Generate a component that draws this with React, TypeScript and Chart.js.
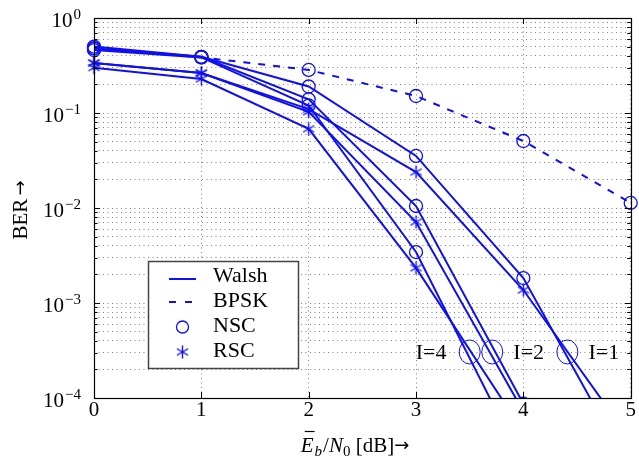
import React, { useEffect, useRef } from 'react';
import { Chart, registerables } from 'chart.js';

Chart.register(...registerables);

// ---------- data ----------
const snrDb = [0, 1, 2, 3, 4, 5];
const bpsk = [0.48, 0.385, 0.284, 0.151, 0.0507, 0.0113];
const nscI1 = [0.5, 0.39, 0.19, 0.0353, 0.00183, 1.7e-5];
const rscI1 = [0.336, 0.264, 0.11, 0.0239, 0.00137, 3.6e-5];
const nscI2 = [0.48, 0.39, 0.139, 0.0105, 8.7e-5];
const rscI2 = [0.336, 0.264, 0.103, 0.00712, 7.2e-5];
const nscI4 = [0.46, 0.385, 0.12, 0.00344, 2.0e-5];
const rscI4 = [0.3, 0.228, 0.068, 0.00234, 4.4e-5];

const xTicks = [0, 1, 2, 3, 4, 5];
const yDecades = [1, 0.1, 0.01, 0.001, 0.0001];
const yDecadeExponents = ['0', '\u22121', '\u22122', '\u22123', '\u22124'];
const yMinorMultipliers = [2, 3, 4, 5, 6, 7, 8, 9];

const legendLabels = ['Walsh', 'BPSK', 'NSC', 'RSC'];
const iterLabels = ['I=4', 'I=2', 'I=1'];
const iterLabelX = [3.14, 4.05, 4.75];
const iterCircleX = [3.5, 3.71, 4.41];
const iterY = 3.05e-4;

const xTitleParts = ['E', 'b', '/', 'N', '0', ' [dB]', '\u2192'];
const yTitleText = 'BER';
const arrow = '\u2192';

// ---------- style ----------
const BLUE = 'rgb(15,15,245)';
const FONT = "'Liberation Serif', 'Times New Roman', serif";
const ARROW_FONT = "'DejaVu Sans', sans-serif";
const GRID = 'rgba(0,0,0,0.5)';

const yTickValues: number[] = [];
yDecades.forEach((d) => {
  yTickValues.push(d);
  yMinorMultipliers.forEach((m) => {
    const v = m * d;
    if (v < 1) yTickValues.push(v);
  });
});

function makeStar(size: number, color: string): HTMLCanvasElement {
  const c = document.createElement('canvas');
  c.width = size;
  c.height = size;
  const ctx = c.getContext('2d')!;
  ctx.strokeStyle = color;
  ctx.lineWidth = 1.4;
  const cx = size / 2;
  const cy = size / 2;
  const r = size / 2 - 1;
  ctx.beginPath();
  for (let k = 0; k < 3; k++) {
    const a = Math.PI / 2 + (k * Math.PI) / 3;
    ctx.moveTo(cx + r * Math.cos(a), cy + r * Math.sin(a));
    ctx.lineTo(cx - r * Math.cos(a), cy - r * Math.sin(a));
  }
  ctx.stroke();
  return c;
}

let starImg: HTMLCanvasElement;

const overlayPlugin = {
  id: 'overlay',
  afterDatasetsDraw(chart: any) {
    const ctx = chart.ctx as CanvasRenderingContext2D;
    const xs = chart.scales.x;
    const ys = chart.scales.y;
    const py = ys.getPixelForValue(iterY);
    ctx.save();
    ctx.strokeStyle = BLUE;
    ctx.lineWidth = 1;
    iterCircleX.forEach((v) => {
      ctx.beginPath();
      ctx.ellipse(xs.getPixelForValue(v), py, 10.5, 12, 0, 0, Math.PI * 2);
      ctx.stroke();
    });
    ctx.fillStyle = '#000';
    ctx.font = `22px ${FONT}`;
    ctx.textAlign = 'center';
    ctx.textBaseline = 'middle';
    iterLabels.forEach((t, i) => {
      ctx.fillText(t, xs.getPixelForValue(iterLabelX[i]), py + 1);
    });
    ctx.restore();
  },
  afterDraw(chart: any) {
    const ctx = chart.ctx as CanvasRenderingContext2D;
    const a = chart.chartArea;
    const xs = chart.scales.x;
    const ys = chart.scales.y;
    ctx.save();
    // frame
    ctx.strokeStyle = '#000';
    ctx.lineWidth = 1.2;
    ctx.strokeRect(Math.round(a.left) + 0.5, Math.round(a.top) + 0.5, Math.round(a.right - a.left), Math.round(a.bottom - a.top));
    // tick marks
    ctx.lineWidth = 1;
    ctx.beginPath();
    yTickValues.forEach((v) => {
      const p = Math.round(ys.getPixelForValue(v)) + 0.5;
      const len = yDecades.includes(v) ? 6 : 3.5;
      ctx.moveTo(a.left, p);
      ctx.lineTo(a.left + len, p);
      ctx.moveTo(a.right, p);
      ctx.lineTo(a.right - len, p);
    });
    xTicks.forEach((v) => {
      const p = Math.round(xs.getPixelForValue(v)) + 0.5;
      ctx.moveTo(p, a.bottom);
      ctx.lineTo(p, a.bottom - 6);
      ctx.moveTo(p, a.top);
      ctx.lineTo(p, a.top + 6);
    });
    ctx.stroke();

    // y tick labels 10^n
    ctx.fillStyle = '#000';
    ctx.textBaseline = 'alphabetic';
    ctx.textAlign = 'left';
    yDecades.forEach((d, i) => {
      const p = ys.getPixelForValue(d);
      ctx.font = `15px ${FONT}`;
      const sw = ctx.measureText(yDecadeExponents[i]).width;
      ctx.font = `21px ${FONT}`;
      const bw = ctx.measureText('10').width;
      const right = 81;
      const x0 = right - sw - bw - 1;
      ctx.fillText('10', x0, p + 9);
      ctx.font = `15px ${FONT}`;
      ctx.fillText(yDecadeExponents[i], x0 + bw + 1, p + 0.5);
    });

    // y title (rotated): "BER" + arrow
    ctx.save();
    ctx.translate(27, (a.top + a.bottom) / 2 + 2);
    ctx.rotate(-Math.PI / 2);
    ctx.font = `21px ${FONT}`;
    const tw = ctx.measureText(yTitleText).width;
    ctx.font = `18px ${ARROW_FONT}`;
    const aw = ctx.measureText(arrow).width;
    const tot = tw + 3 + aw;
    ctx.textAlign = 'left';
    ctx.textBaseline = 'alphabetic';
    ctx.font = `21px ${FONT}`;
    ctx.fillText(yTitleText, -tot / 2, 0);
    ctx.font = `18px ${ARROW_FONT}`;
    ctx.fillText(arrow, -tot / 2 + tw + 3, -1);
    ctx.restore();

    // x title
    const fI = `italic 21px ${FONT}`;
    const fR = `21px ${FONT}`;
    const sI = `italic 15px ${FONT}`;
    const sR = `15px ${FONT}`;
    const fA = `18px ${ARROW_FONT}`;
    const fonts = [fI, sI, fR, fI, sR, fR, fA];
    const dys = [0, 4, 0, 0, 4, 0, -1];
    const gaps = [0, 1, 1, 0, 0, 0, 0];
    let total = 0;
    const widths = xTitleParts.map((t, i) => {
      ctx.font = fonts[i];
      const w = ctx.measureText(t).width;
      total += w + gaps[i];
      return w;
    });
    const base = 452;
    let cx = 355 - total / 2;
    ctx.textAlign = 'left';
    ctx.textBaseline = 'alphabetic';
    xTitleParts.forEach((t, i) => {
      cx += gaps[i];
      ctx.font = fonts[i];
      ctx.fillText(t, cx, base + dys[i]);
      if (i === 0) {
        ctx.beginPath();
        ctx.lineWidth = 1.2;
        ctx.moveTo(cx + 4, base - 20.5);
        ctx.lineTo(cx + widths[i] + 1, base - 20.5);
        ctx.stroke();
      }
      cx += widths[i];
    });

    // legend
    const lx = 148, ly = 261, lw = 150, lh = 107;
    ctx.fillStyle = '#fff';
    ctx.fillRect(lx, ly, lw, lh);
    ctx.strokeStyle = '#444';
    ctx.lineWidth = 1.5;
    ctx.strokeRect(lx + 0.5, ly + 0.5, lw, lh);
    const baselines = [282, 307, 331.5, 356.5];
    ctx.fillStyle = '#000';
    ctx.font = `22px ${FONT}`;
    legendLabels.forEach((t, i) => {
      ctx.fillText(t, 213, baselines[i]);
    });
    ctx.strokeStyle = BLUE;
    ctx.lineWidth = 2;
    ctx.beginPath();
    ctx.moveTo(169, baselines[0] - 3);
    ctx.lineTo(196, baselines[0] - 3);
    ctx.stroke();
    ctx.setLineDash([7, 9]);
    ctx.beginPath();
    ctx.moveTo(169, baselines[1] - 5);
    ctx.lineTo(196, baselines[1] - 5);
    ctx.stroke();
    ctx.setLineDash([]);
    ctx.lineWidth = 1.3;
    ctx.beginPath();
    ctx.arc(182.5, baselines[2] - 4.5, 6, 0, Math.PI * 2);
    ctx.stroke();
    ctx.drawImage(starImg, 182.5 - starImg.width / 2, baselines[3] - 4.5 - starImg.height / 2);
    ctx.restore();
  },
};

export default function App() {
  const ref = useRef<HTMLCanvasElement>(null);
  useEffect(() => {
    document.body.style.margin = '0';
    starImg = makeStar(15, BLUE);
    const clip = { left: 12, right: 12, top: 12, bottom: 0 };
    const mk = (label: string, ys: number[], marker: 'o' | '*', dashed: boolean) => ({
      label,
      data: ys.map((y, i) => ({ x: snrDb[i], y })),
      borderColor: BLUE,
      backgroundColor: 'transparent',
      borderWidth: 2,
      borderDash: dashed ? [7, 8] : [],
      pointStyle: marker === 'o' ? 'circle' : starImg,
      pointRadius: marker === 'o' ? 6.5 : 7,
      pointBorderWidth: 1.3,
      pointBorderColor: BLUE,
      pointBackgroundColor: 'transparent',
      tension: 0,
      clip,
    });
    const chart = new Chart(ref.current!, {
      type: 'line',
      data: {
        datasets: [
          mk('BPSK', bpsk, 'o', true),
          mk('NSC I=1', nscI1, 'o', false),
          mk('RSC I=1', rscI1, '*', false),
          mk('NSC I=2', nscI2, 'o', false),
          mk('RSC I=2', rscI2, '*', false),
          mk('NSC I=4', nscI4, 'o', false),
          mk('RSC I=4', rscI4, '*', false),
        ] as any,
      },
      options: {
        animation: false,
        responsive: false,
        layout: { padding: { top: 18, right: 7, left: 0, bottom: 0 } },
        plugins: { legend: { display: false }, tooltip: { enabled: false } },
        scales: {
          x: {
            type: 'linear',
            min: 0,
            max: 5,
            afterBuildTicks: (s: any) => {
              s.ticks = xTicks.map((v) => ({ value: v }));
            },
            afterFit: (s: any) => {
              s.height = 61;
            },
            ticks: { font: { family: FONT, size: 21 }, color: '#000', padding: 0, maxRotation: 0, autoSkip: false },
            grid: { drawTicks: false, color: GRID, lineWidth: 1 },
            border: { display: false, dash: [1, 3.5] },
          },
          y: {
            type: 'logarithmic',
            min: 1e-4,
            max: 1,
            afterBuildTicks: (s: any) => {
              s.ticks = yTickValues.map((v) => ({ value: v }));
            },
            afterFit: (s: any) => {
              s.width = 94;
            },
            ticks: { display: false },
            grid: { drawTicks: false, color: GRID, lineWidth: 1 },
            border: { display: false, dash: [1, 3.5] },
          },
        },
      } as any,
      plugins: [overlayPlugin],
    });
    return () => chart.destroy();
  }, []);
  return <canvas ref={ref} width={639} height={459} style={{ display: 'block' }} />;
}
